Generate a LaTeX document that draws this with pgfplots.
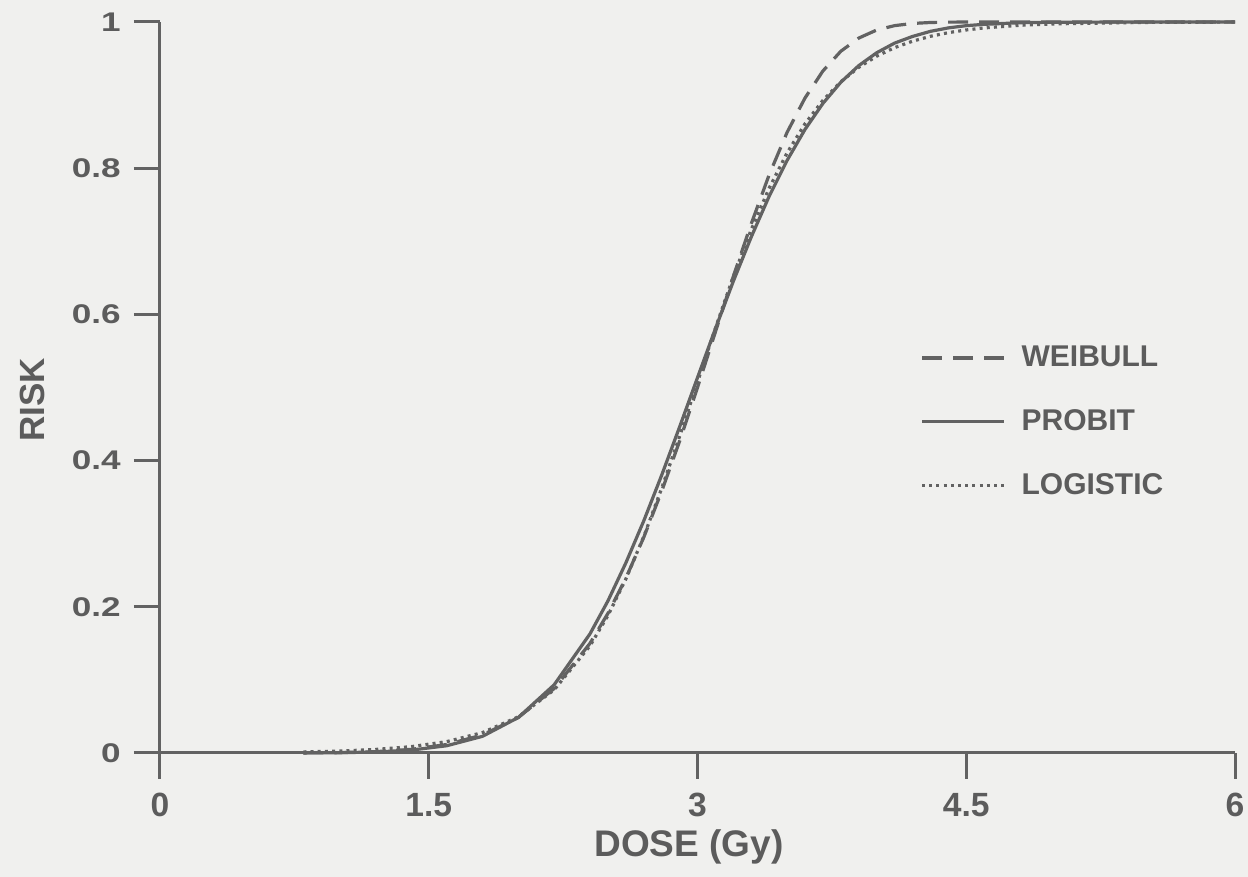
\documentclass[border=0pt]{standalone}
\usepackage{fontspec}
\setmainfont{Liberation Sans}
\usepackage{pgfplots}
\pgfplotsset{compat=1.18}
\definecolor{bgcol}{RGB}{240,240,238}
\definecolor{ink}{RGB}{92,92,92}
\definecolor{linec}{RGB}{98,98,98}
\begin{document}
\begin{tikzpicture}
\useasboundingbox (-80pt,-62pt) rectangle (544pt,376.5pt);
\fill[bgcol] (-80pt,-62pt) rectangle (544pt,376.5pt);
\begin{axis}[
  at={(0,0)}, anchor=south west,
  scale only axis, width=537.5pt, height=365.5pt,
  xmin=0, xmax=6, ymin=0, ymax=1,
  clip=false,
  axis lines=left,
  axis line style={-, draw=linec, line width=1.5pt},
  every tick/.style={draw=linec, line width=1.5pt},
  tick align=outside,
  major tick length=13pt,
  xtick={0,1.5,3,4.5,6},
  xticklabels={0,1.5,3,4.5,6},
  ytick={0,0.2,0.4,0.6,0.8,1},
  yticklabels={\scalebox{1.3}[1]{0},\scalebox{1.3}[1]{0.2},\scalebox{1.3}[1]{0.4},\scalebox{1.3}[1]{0.6},\scalebox{1.3}[1]{0.8},\scalebox{1.3}[1]{1}},
  xticklabel style={font=\fontsize{16.8}{18}\selectfont\bfseries, text=ink, inner sep=0pt, yshift=-7pt},
  yticklabel style={font=\fontsize{13.5}{15}\selectfont\bfseries, text=ink, inner sep=0pt, xshift=-6.5pt},
  xlabel={DOSE (Gy)},
  ylabel={RISK},
  xlabel style={font=\fontsize{18.5}{20}\selectfont\bfseries, text=ink, at={(axis description cs:0.492,0)}, anchor=base, yshift=-52pt, inner sep=0pt},
  ylabel style={font=\fontsize{17.5}{19}\selectfont\bfseries, text=ink, at={(axis description cs:-0.119,0.483)}, anchor=center, inner sep=0pt},
  legend style={at={(rel axis cs:0.707,0.4528)}, anchor=west, draw=none, fill=none, inner sep=0pt,
    font=\fontsize{15}{16}\selectfont\bfseries, text=ink, row sep=20pt, column sep=8pt,
    nodes={inner sep=0pt}},
  legend cell align=left,
  legend image code/.code={\draw[#1] (0pt,0pt) -- (41pt,0pt);},
]
\addplot[linec, line width=1.6pt, dash pattern=on 10pt off 5.5pt] coordinates {
(0.8,0.0001) (1.0,0.0005) (1.2,0.0018) (1.4,0.0049) (1.6,0.0116) (1.8,0.0247)
(2.0,0.0485) (2.2,0.0882) (2.4,0.150) (2.5,0.191) (2.6,0.239) (2.7,0.295)
(2.8,0.358) (2.9,0.4265) (3.0,0.500) (3.1,0.576) (3.2,0.652) (3.3,0.724)
(3.4,0.791) (3.5,0.849) (3.6,0.896) (3.7,0.933) (3.8,0.960) (3.9,0.978)
(4.0,0.989) (4.1,0.995) (4.2,0.998) (4.3,0.9993) (4.4,0.9998) (4.6,1.0)
(5.0,1.0) (6.0,1.0)};
\addlegendentry{WEIBULL}
\addplot[linec, line width=1.6pt] coordinates {
(0.8,0.0001) (1.0,0.0004) (1.2,0.0013) (1.4,0.0039) (1.6,0.0099) (1.8,0.0228)
(2.0,0.0486) (2.2,0.0933) (2.4,0.163) (2.5,0.208) (2.6,0.260) (2.7,0.3175)
(2.8,0.380) (2.9,0.446) (3.0,0.5135) (3.1,0.5805) (3.2,0.6453) (3.3,0.7059)
(3.4,0.7616) (3.5,0.8106) (3.6,0.8530) (3.7,0.8886) (3.8,0.9176) (3.9,0.9403)
(4.0,0.9579) (4.1,0.9711) (4.2,0.9802) (4.3,0.9872) (4.4,0.9919) (4.5,0.9950)
(4.6,0.9968) (4.8,0.9990) (5.0,0.9997) (5.5,1.0) (6.0,1.0)};
\addlegendentry{PROBIT}
\addplot[linec, line width=1.6pt, dash pattern=on 1.5pt off 2.1pt] coordinates {
(0.8,0.0015) (1.0,0.0026) (1.2,0.0048) (1.4,0.0086) (1.6,0.0155) (1.8,0.0279)
(2.0,0.0495) (2.2,0.0864) (2.4,0.1466) (2.5,0.188) (2.6,0.238) (2.7,0.296)
(2.8,0.362) (2.9,0.433) (3.0,0.5075) (3.1,0.5813) (3.2,0.6517) (3.3,0.716)
(3.4,0.7727) (3.5,0.8209) (3.6,0.8607) (3.7,0.8928) (3.8,0.9182) (3.9,0.938)
(4.0,0.9532) (4.1,0.9649) (4.2,0.9737) (4.3,0.9804) (4.4,0.9854) (4.5,0.9891)
(4.6,0.9919) (4.8,0.9955) (5.0,0.9975) (5.5,0.9994) (6.0,0.9999)};
\addlegendentry{LOGISTIC}
\end{axis}
\end{tikzpicture}
\end{document}
